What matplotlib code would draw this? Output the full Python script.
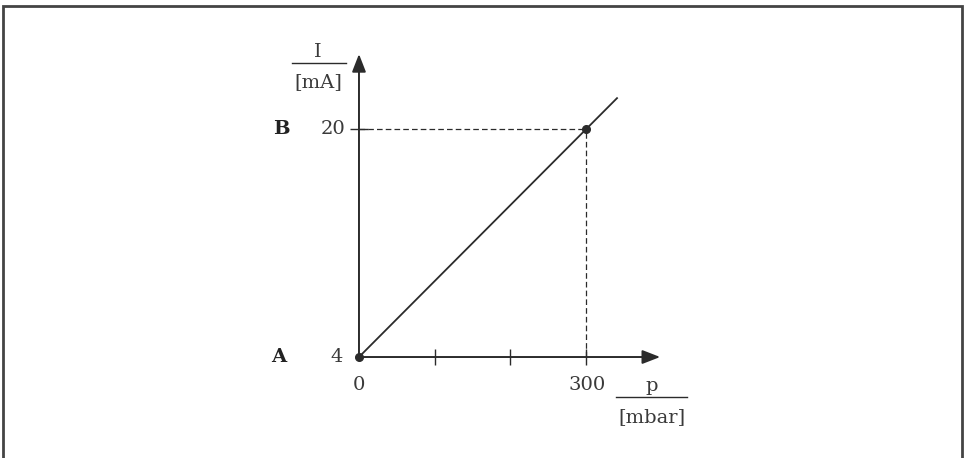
import matplotlib
matplotlib.use("Agg")
import matplotlib.pyplot as plt
from matplotlib.patches import Rectangle

# Data
pressure_range = [0, 300]          # mbar (A, B)
current_range = [4, 20]            # mA  (A, B)
line_p = [0, 341]                  # characteristic line extent
line_I = [4, 22.2]
x_ticks = [100, 200, 300]
y_ticks = [20]
point_labels = ["A", "B"]
x_tick_labels = ["0", "300"]
y_tick_labels = ["4", "20"]
x_axis_label = ("p", "[mbar]")
y_axis_label = ("I", "[mA]")

W, H = 967, 458
fig = plt.figure(figsize=(W / 100, H / 100), dpi=100)
ax = fig.add_axes([0, 0, 1, 1])
ax.set_xlim(-474.4, 803.5)
ax.set_ylim(-3.10, 29.1)
ax.axis("off")

col = "#2b2b2b"
txtcol = "#3a3a3a"
font = dict(family="DejaVu Serif", color=txtcol, fontsize=14)

# frame
fig.patches.append(Rectangle((3 / W, -0.1), 959 / W, (H - 6) / H + 0.1,
                             transform=fig.transFigure, fill=False,
                             edgecolor="#444444", lw=2))

x0, y0 = pressure_range[0], current_range[0]
# axes arrows
ax.annotate("", xy=(398, y0), xytext=(x0, y0),
            arrowprops=dict(arrowstyle="-|>,head_length=0.9,head_width=0.35",
                            mutation_scale=12, lw=1.4, color=col, shrinkA=0, shrinkB=0))
ax.annotate("", xy=(x0, 25.3), xytext=(x0, y0),
            arrowprops=dict(arrowstyle="-|>,head_length=0.9,head_width=0.35",
                            mutation_scale=12, lw=1.4, color=col, shrinkA=0, shrinkB=0))

# ticks
ax.plot(x_ticks, [y0] * len(x_ticks), ls="none", marker="|", markersize=12,
        markeredgewidth=1.0, color=col)
ax.plot([x0] * len(y_ticks), y_ticks, ls="none", marker="_", markersize=13,
        markeredgewidth=1.0, color=col)

# dashed guides
p1, i1 = pressure_range[1], current_range[1]
ax.plot([x0, p1], [i1, i1], ls=(0, (4.5, 2.5)), lw=0.9, color=col)
ax.plot([p1, p1], [y0, i1], ls=(0, (4.5, 2.5)), lw=0.9, color=col)

# characteristic line
ax.plot(line_p, line_I, lw=1.3, color=col)
ax.plot(pressure_range, current_range, ls="none", marker="o", markersize=5.5, color=col)

# labels
ax.text(-106, current_range[0], point_labels[0], ha="center", va="center",
        fontweight="bold", color="#222222", family="DejaVu Serif", fontsize=14)
ax.text(-102, current_range[1], point_labels[1], ha="center", va="center",
        fontweight="bold", color="#222222", family="DejaVu Serif", fontsize=14)
ax.text(-22, current_range[0], y_tick_labels[0], ha="right", va="center", **font)
ax.text(-18.5, current_range[1], y_tick_labels[1], ha="right", va="center", **font)
ax.text(pressure_range[0], 2.0, x_tick_labels[0], ha="center", va="center", **font)
ax.text(pressure_range[1] + 1, 2.0, x_tick_labels[1], ha="center", va="center", **font)

# x axis label (fraction)
ax.text(387, 1.62, x_axis_label[0], ha="center", va="baseline", **font)
ax.plot([339.6, 433.5], [1.19, 1.19], lw=1.0, color=col)
ax.text(387, -0.2, x_axis_label[1], ha="center", va="center", **font)

# y axis label (fraction)
ax.text(-54, 25.1, y_axis_label[0], ha="center", va="baseline", **font)
ax.plot([-88.5, -17.2], [24.68, 24.68], lw=1.0, color=col)
ax.text(-54, 23.3, y_axis_label[1], ha="center", va="center", **font)

fig.savefig("out.png", dpi=100)
